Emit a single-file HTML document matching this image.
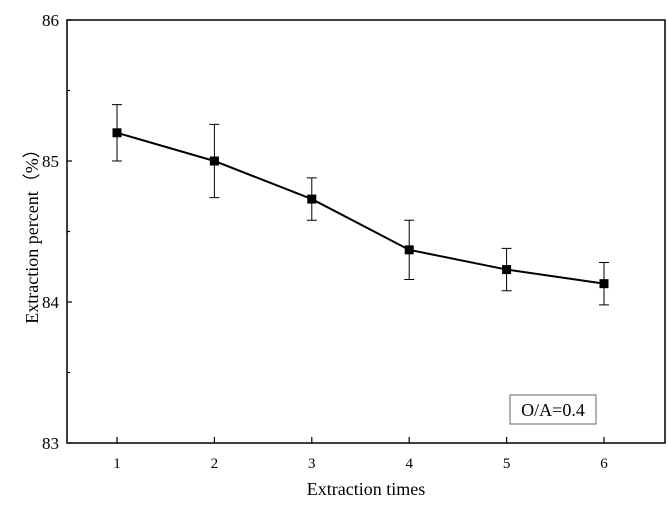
<!DOCTYPE html>
<html><head><meta charset="utf-8"><style>
body{margin:0;background:#fff}
text{font-family:"Liberation Serif",serif;fill:#000}
</style></head><body>
<svg id="c" width="669" height="512" xmlns="http://www.w3.org/2000/svg"></svg>
<script>
const categories=[1,2,3,4,5,6];
const values=[85.2,85.0,84.73,84.37,84.23,84.13];
const errors=[0.2,0.26,0.15,0.21,0.15,0.15];
const yTicks=[83,84,85,86];
const yMinor=[83.5,84.5,85.5];
const L=67,R=665,T=20,B=443;
const xs=v=>117+(v-1)*97.4;
const ys=v=>B-(v-83)/3*(B-T);
const svg=document.getElementById('c');
const NS='http://www.w3.org/2000/svg';
function mk(t,a,txt){const e=document.createElementNS(NS,t);for(const k in a)e.setAttribute(k,a[k]);if(txt!==undefined)e.textContent=txt;svg.appendChild(e);return e;}
let e;
e=mk('rect',{x:L,y:T,width:R-L,height:B-T,fill:'none',stroke:'#000','stroke-width':1.5});


yTicks.forEach(v=>{
 e=mk('line',{x1:L,x2:L+5,y1:ys(v),y2:ys(v),stroke:'#000','stroke-width':1.2});
 
 
 e=mk('text',{x:L-8,y:ys(v)+6,'text-anchor':'end','font-size':17},v);
 
 
});
yMinor.forEach(v=>{
 e=mk('line',{x1:L,x2:L+3,y1:ys(v),y2:ys(v),stroke:'#000','stroke-width':1.2});
 
 
});
categories.forEach(c=>{
 e=mk('line',{x1:xs(c),x2:xs(c),y1:B,y2:B-6,stroke:'#000','stroke-width':1.2});
 
 
 e=mk('text',{x:xs(c),y:B+25,'text-anchor':'middle','font-size':15},c);
 
 
});
e=mk('polyline',{points:categories.map((c,i)=>xs(c)+','+ys(values[i])).join(' '),fill:'none',stroke:'#000','stroke-width':2});


categories.forEach((c,i)=>{
 const x=xs(c),y1=ys(values[i]+errors[i]),y2=ys(values[i]-errors[i]);
 e=mk('path',{d:`M${x},${y1}V${y2}M${x-5},${y1}H${x+5}M${x-5},${y2}H${x+5}`,stroke:'#000','stroke-width':1,fill:'none'});
 
 
 e=mk('rect',{x:x-4.5,y:ys(values[i])-4.5,width:9,height:9,fill:'#000'});
 
 
});
e=mk('rect',{x:510,y:395,width:86,height:29,fill:'#fff',stroke:'#666','stroke-width':1});


e=mk('text',{x:553,y:416,'text-anchor':'middle','font-size':18},'O/A=0.4');


e=mk('text',{x:366,y:495,'text-anchor':'middle','font-size':18},'Extraction times');


e=mk('text',{x:0,y:0,'text-anchor':'middle','font-size':18,transform:'translate(38,232) rotate(-90)'},'Extraction percent（%）');


</script>
</body></html>
